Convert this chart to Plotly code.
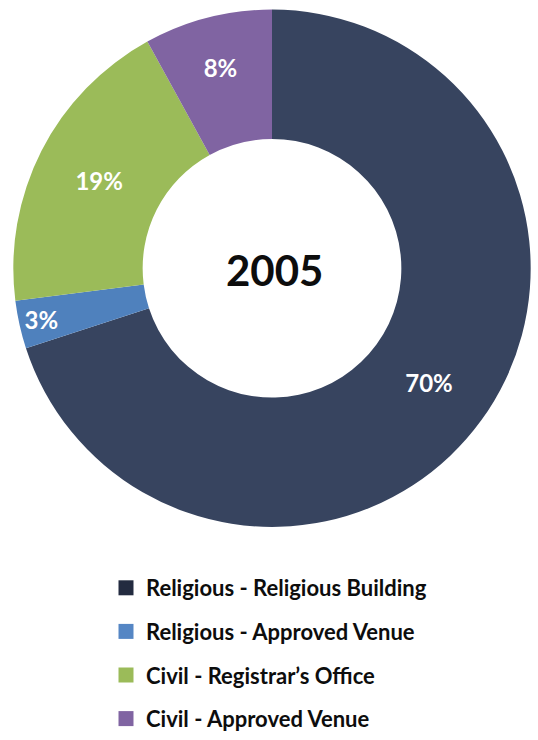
import plotly.graph_objects as go

labels = ["Religious - Religious Building", "Religious - Approved Venue",
          "Civil - Registrar\u2019s Office", "Civil - Approved Venue"]
values = [70, 3, 19, 8]
slice_colors = ["#37445f", "#4f81bd", "#9bbb59", "#8064a2"]
legend_colors = ["#232b40", "#5586c4", "#9bbb59", "#8064a2"]
center_label = "2005"

FONT = "Lato"

fig = go.Figure()
fig.add_trace(go.Pie(
    labels=labels, values=values, hole=0.5, sort=False, direction="clockwise",
    rotation=0, marker=dict(colors=slice_colors, line=dict(width=0)),
    texttemplate="%{percent:.0%}", textposition="inside",
    insidetextorientation="horizontal",
    insidetextfont=dict(family=FONT, size=24, color="white", weight="bold"),
    domain=dict(x=[6/538, 1.0], y=[190/740, 730/740]),
    showlegend=False, hoverinfo="label+percent",
))

for lab, col in zip(labels, legend_colors):
    fig.add_trace(go.Scatter(
        x=[None], y=[None], mode="markers", name=lab, legendgroup=lab,
        marker=dict(symbol="square", size=15, color=col),
    ))

fig.add_annotation(text=center_label, x=274/538, y=1-282/740, xref="paper", yref="paper",
                   showarrow=False, font=dict(family=FONT, size=42, color="#0d0d0d", weight="bold"))

fig.update_layout(
    width=538, height=740, margin=dict(l=0, r=0, t=0, b=0),
    paper_bgcolor="white", plot_bgcolor="white",
    xaxis=dict(visible=False), yaxis=dict(visible=False),
    uniformtext=dict(minsize=24, mode="show"),
    legend=dict(x=106/538, y=1-592/740, xanchor="left", yanchor="top",
                font=dict(family=FONT, size=22, color="#0d0d0d", weight="bold"),
                tracegroupgap=12, itemsizing="trace", bgcolor="rgba(0,0,0,0)"),
)

fig.write_html("out.html")
